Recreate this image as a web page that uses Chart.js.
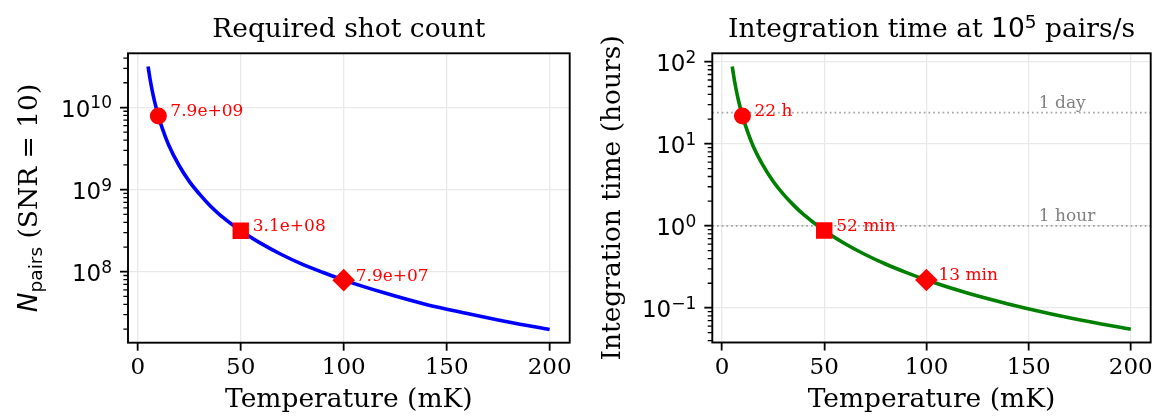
<!DOCTYPE html>
<html>
<head>
<meta charset="utf-8">
<script src="https://cdn.jsdelivr.net/npm/chart.js@4.4.1/dist/chart.umd.min.js"></script>
<style>
  html, body { margin: 0; padding: 0; background: #fff; }
  #wrap { position: relative; width: 1162px; height: 420px; }
  canvas { position: absolute; top: 0; }
</style>
</head>
<body>
<div id="wrap">
  <canvas id="countChart" width="581" height="420" style="left:0"></canvas>
  <canvas id="timeChart" width="581" height="420" style="left:581px"></canvas>
</div>
<script>
// temperature grid (mK) and values
const temps = [5, 6, 7, 8, 10, 12, 15, 20, 25, 30, 35, 40, 50, 60, 70, 80, 90, 100, 120, 140, 160, 180, 200];
const pairCounts = [3.16e10, 2.19e10, 1.61e10, 1.23e10, 7.9e9, 5.5e9, 3.5e9, 1.98e9, 1.26e9, 8.8e8, 6.4e8, 4.9e8,
  3.16e8, 2.2e8, 1.61e8, 1.23e8, 9.8e7, 7.9e7, 5.5e7, 4.0e7, 3.1e7, 2.44e7, 1.98e7];
const hours = [87.8, 60.8, 44.7, 34.2, 21.9, 15.3, 9.7, 5.5, 3.5, 2.44, 1.79, 1.37,
  0.878, 0.61, 0.448, 0.343, 0.271, 0.219, 0.152, 0.112, 0.0857, 0.0677, 0.0549];

// highlighted temperatures
const markerTemps = [10, 50, 100];
const markerCounts = [7.9e9, 3.16e8, 7.9e7];
const markerHours = [21.9, 0.878, 0.219];
const countNotes = ['7.9e+09', '3.1e+08', '7.9e+07'];
const hourNotes = ['22 h', '52 min', '13 min'];
const markerStyles = ['circle', 'rect', 'rectRot'];

// reference lines on the time panel
const refHours = [24, 1];
const refNotes = ['1 day', '1 hour'];
const refNoteTemp = 155;

// ticks
const xTicks = [0, 50, 100, 150, 200];
const countTicks = [1e8, 1e9, 1e10];
const hourTicks = [0.1, 1, 10, 100];

const SERIF = "'DejaVu Serif'";
const SANS = "'DejaVu Sans'";
const W = 581, H = 420;
const X_MIN = -4.75, X_MAX = 209.75;

function drawParts(ctx, parts, x, y, align) {
  let total = 0;
  parts.forEach(p => { ctx.font = p.font; p.w = ctx.measureText(p.text).width; total += p.w; });
  let cx = align === 'center' ? x - total / 2 : align === 'right' ? x - total : x;
  ctx.textAlign = 'left';
  ctx.textBaseline = 'alphabetic';
  parts.forEach(p => {
    ctx.font = p.font;
    ctx.fillText(p.text, cx, y + (p.dy || 0));
    cx += p.w;
  });
}

function supLabel(v) {
  const e = Math.round(Math.log10(v));
  return [
    { text: '10', font: `23px ${SANS}` },
    { text: String(e).replace('-', '\u2212'), font: `17px ${SANS}`, dy: -8.5 }
  ];
}

function makeChart(id, cfg) {
  const a = cfg.area;
  const points = temps.map((t, i) => ({ x: t, y: cfg.values[i] }));
  const marks = markerTemps.map((t, i) => ({ x: t, y: cfg.markers[i] }));

  const datasets = [
    {
      data: marks, showLine: false, order: 0,
      pointStyle: markerStyles, pointRadius: [8.5, 11.6, 11.3],
      pointBackgroundColor: '#ff0000', pointBorderColor: '#ff0000', pointBorderWidth: 0
    },
    {
      data: points, order: 1, borderColor: cfg.color, borderWidth: 3.6,
      pointRadius: 0, cubicInterpolationMode: 'monotone', fill: false
    }
  ];
  (cfg.refs || []).forEach(r => {
    datasets.push({
      data: [{ x: X_MIN, y: r }, { x: X_MAX, y: r }], order: 2,
      borderColor: 'rgba(128,128,128,0.7)', borderWidth: 1.7, borderDash: [1.7, 3], pointRadius: 0
    });
  });

  const gridOpts = { color: '#e9e9e9', lineWidth: 1.3, tickLength: 8, tickColor: '#000', tickWidth: 1.8 };

  const textPlugin = {
    id: 'texts',
    afterDatasetsDraw(chart) {
      const ctx = chart.ctx;
      const ca = chart.chartArea;
      const xs = chart.scales.x, ys = chart.scales.y;
      ctx.save();
      // frame
      ctx.strokeStyle = '#000';
      ctx.lineWidth = 1.9;
      ctx.strokeRect(ca.left, ca.top, ca.right - ca.left, ca.bottom - ca.top);
      // minor log ticks
      ctx.lineWidth = 1.3;
      ctx.beginPath();
      for (let d = Math.floor(Math.log10(cfg.yMin)); d <= Math.ceil(Math.log10(cfg.yMax)); d++) {
        for (let m = 2; m <= 9; m++) {
          const v = m * Math.pow(10, d);
          if (v < cfg.yMin || v > cfg.yMax) continue;
          const py = ys.getPixelForValue(v);
          ctx.moveTo(ca.left - 4.6, py);
          ctx.lineTo(ca.left, py);
        }
      }
      ctx.stroke();
      // y tick labels
      ctx.fillStyle = '#000';
      cfg.yTicks.forEach(v => {
        drawParts(ctx, supLabel(v), ca.left - 16, ys.getPixelForValue(v) + 9.5, 'right');
      });
      // marker notes
      const meta = chart.getDatasetMeta(0);
      ctx.fillStyle = '#ff0000';
      meta.data.forEach((pt, i) => {
        drawParts(ctx, [{ text: cfg.notes[i], font: `17px ${SERIF}` }], pt.x + 12, pt.y + 0.5, 'left');
      });
      // reference notes
      ctx.fillStyle = '#808080';
      (cfg.refs || []).forEach((r, i) => {
        drawParts(ctx, [{ text: refNotes[i], font: `17px ${SERIF}` }],
          xs.getPixelForValue(refNoteTemp), ys.getPixelForValue(r) - 5, 'left');
      });
      // titles and axis labels
      ctx.fillStyle = '#000';
      const cx = (ca.left + ca.right) / 2;
      drawParts(ctx, cfg.title, cx, 37, 'center');
      drawParts(ctx, [{ text: 'Temperature (mK)', font: `26.5px ${SERIF}` }], cx, 406.7, 'center');
      ctx.translate(cfg.ylabelX, (ca.top + ca.bottom) / 2);
      ctx.rotate(-Math.PI / 2);
      drawParts(ctx, cfg.ylabel, 0, 0, 'center');
      ctx.restore();
    }
  };

  return new Chart(document.getElementById(id), {
    type: 'line',
    data: { datasets },
    options: {
      responsive: false,
      animation: false,
      devicePixelRatio: 1,
      layout: { padding: { top: a.top, left: 0, right: W - a.right, bottom: 0 } },
      plugins: { legend: { display: false }, tooltip: { enabled: false }, title: { display: false } },
      scales: {
        x: {
          type: 'linear', min: X_MIN, max: X_MAX,
          afterFit: s => { s.height = H - a.bottom; },
          afterBuildTicks: s => { s.ticks = xTicks.map(v => ({ value: v })); },
          ticks: { font: { family: 'DejaVu Serif', size: 23 }, color: '#000', padding: 4, autoSkip: false, maxRotation: 0 },
          grid: gridOpts,
          border: { display: false }
        },
        y: {
          type: 'logarithmic', min: cfg.yMin, max: cfg.yMax,
          afterFit: s => { s.width = a.left; },
          afterBuildTicks: s => { s.ticks = cfg.yTicks.map(v => ({ value: v })); },
          ticks: { display: false },
          grid: gridOpts,
          border: { display: false }
        }
      }
    },
    plugins: [textPlugin]
  });
}

makeChart('countChart', {
  area: { left: 128, right: 571.7, top: 53.3, bottom: 342.7 },
  values: pairCounts, markers: markerCounts, notes: countNotes,
  color: '#0000ff', yMin: 1.368e7, yMax: 4.57e10, yTicks: countTicks,
  title: [{ text: 'Required shot count', font: `26.5px ${SERIF}` }],
  ylabelX: 37,
  ylabel: [
    { text: 'N', font: `italic 26.5px ${SANS}` },
    { text: 'pairs', font: `18.5px ${SANS}`, dy: 4.5 },
    { text: ' (SNR = 10)', font: `26.5px ${SERIF}` }
  ]
});

makeChart('timeChart', {
  area: { left: 131.3, right: 573, top: 53.3, bottom: 342.5 },
  values: hours, markers: markerHours, notes: hourNotes, refs: refHours,
  color: '#008000', yMin: 0.0379, yMax: 126.9, yTicks: hourTicks,
  title: [
    { text: 'Integration time at ', font: `26.5px ${SERIF}` },
    { text: '10', font: `26.5px ${SANS}` },
    { text: '5', font: `18.5px ${SANS}`, dy: -9 },
    { text: ' pairs/s', font: `26.5px ${SERIF}` }
  ],
  ylabelX: 39,
  ylabel: [{ text: 'Integration time (hours)', font: `26.5px ${SERIF}` }]
});
</script>
</body>
</html>
